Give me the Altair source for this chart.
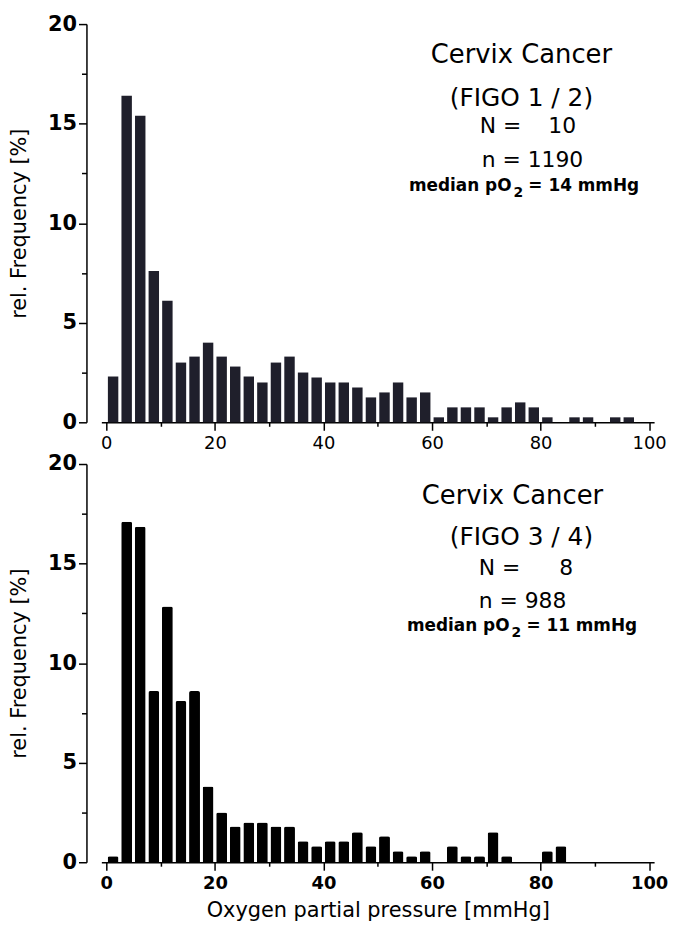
import altair as alt
import pandas as pd

# ---- data ----
bin_start = [0, 2.5, 5, 7.5, 10, 12.5, 15, 17.5, 20, 22.5,
             25, 27.5, 30, 32.5, 35, 37.5, 40, 42.5, 45, 47.5,
             50, 52.5, 55, 57.5, 60, 62.5, 65, 67.5, 70, 72.5,
             75, 77.5, 80, 82.5, 85, 87.5, 90, 92.5, 95, 97.5]

top_freq = [2.3, 16.4, 15.4, 7.6, 6.1, 3.0, 3.3, 4.0, 3.3, 2.8,
            2.3, 2.0, 3.0, 3.3, 2.5, 2.25, 2.0, 2.0, 1.75, 1.25,
            1.5, 2.0, 1.25, 1.5, 0.25, 0.75, 0.75, 0.75, 0.25, 0.75,
            1.0, 0.75, 0.25, 0, 0.25, 0.25, 0, 0.25, 0.25, 0]

bottom_freq = [0.3, 17.1, 16.85, 8.6, 12.85, 8.1, 8.6, 3.8, 2.5, 1.8,
               2.0, 2.0, 1.8, 1.8, 1.05, 0.8, 1.05, 1.05, 1.5, 0.8,
               1.3, 0.55, 0.3, 0.55, 0, 0.8, 0.3, 0.3, 1.5, 0.3,
               0, 0, 0.55, 0.8, 0, 0, 0, 0, 0, 0]

x_ticks = [0, 10, 20, 30, 40, 50, 60, 70, 80, 90, 100]
y_ticks = [0, 2.5, 5, 7.5, 10, 12.5, 15, 17.5, 20]

top_lines = ["Cervix Cancer", "(FIGO 1 / 2)", "N =", "10", "n = 1190",
             "median pO", "2", "= 14 mmHg"]
bottom_lines = ["Cervix Cancer", "(FIGO 3 / 4)", "N =", "8", "n = 988",
                "median pO", "2", "= 11 mmHg"]

W, H = 556.6, 401


def text_layer(s, x, y, size, align="center", weight="normal"):
    return alt.Chart(pd.DataFrame({"t": [s]})).mark_text(
        font="DejaVu Sans", fontSize=size, align=align, baseline="middle",
        fontWeight=weight, color="black"
    ).encode(x=alt.value(x), y=alt.value(y), text="t:N")


def panel(freq, color, bar_w, corner, lines, pos, x_title, xlab_weight):
    df = pd.DataFrame({"start": bin_start, "freq": freq})
    df["mid"] = df["start"] + 1.25
    x_axis_kw = dict(
        values=x_ticks,
        labelExpr="datum.value % 20 == 0 ? datum.label : ''",
        tickSize={"condition": {"test": "datum.value % 20 == 0", "value": 8}, "value": 4},
        labelPadding=4,
        labelFont="DejaVu Sans",
        labelFontSize=18,
        labelFontWeight=xlab_weight,
        titlePadding=8,
    )
    if x_title:
        x_axis = alt.Axis(title=x_title, **x_axis_kw)
    else:
        x_axis = alt.Axis(title=None, **x_axis_kw)
    y_axis = alt.Axis(
        values=y_ticks,
        labelExpr="datum.value % 5 == 0 ? datum.label : ''",
        tickSize={"condition": {"test": "datum.value % 5 == 0", "value": 8}, "value": 5},
        labelPadding=2,
        offset=15,
        labelFont="DejaVu Sans",
        labelFontSize=21,
        labelFontWeight="bold",
        title="rel. Frequency [%]",
        titlePadding=18,
    )
    bar_kw = dict(width=bar_w, color=color)
    if corner:
        bar_kw.update(cornerRadiusTopLeft=corner, cornerRadiusTopRight=corner)
    bars = alt.Chart(df).transform_filter("datum.freq > 0").mark_bar(**bar_kw).encode(
        x=alt.X("mid:Q", scale=alt.Scale(domain=[0, 100], nice=False, zero=False), axis=x_axis),
        y=alt.Y("freq:Q", scale=alt.Scale(domain=[0, 20], nice=False), axis=y_axis),
    )
    texts = [
        text_layer(lines[0], pos[0][0], pos[0][1], 26),
        text_layer(lines[1], pos[1][0], pos[1][1], 25),
        text_layer(lines[2], pos[2][0], pos[2][1], 22, align="left"),
        text_layer(lines[3], pos[3][0], pos[3][1], 22, align="right"),
        text_layer(lines[4], pos[4][0], pos[4][1], 22, align="left"),
        text_layer(lines[5], pos[5][0], pos[5][1], 17, align="right", weight="bold"),
        text_layer(lines[6], pos[6][0], pos[6][1], 14, align="left", weight="bold"),
        text_layer(lines[7], pos[7][0], pos[7][1], 17, align="left", weight="bold"),
    ]
    return alt.layer(bars, *texts).properties(width=W, height=H)


top_pos = [(423, 31), (423, 74), (381, 103), (478, 103), (383, 137),
           (413, 163), (415, 170), (430, 163)]
bottom_pos = [(414, 32.5), (423, 73.5), (380, 104.5), (475, 104.5), (380, 137.5),
              (411, 163.5), (413, 170.5), (428, 163.5)]

top = panel(top_freq, "#1f1f2b", 10.5, 0, top_lines, top_pos, None, "normal")
bottom = panel(bottom_freq, "#000000", 11, 2, bottom_lines, bottom_pos,
               "Oxygen partial pressure [mmHg]", "bold")

chart = alt.vconcat(top, bottom, spacing=1).properties(
    padding={"left": 0, "top": 2, "right": 0, "bottom": 0}
).configure_axis(
    domainColor="black", domainWidth=1.5, tickColor="black", tickWidth=1.5,
    labelColor="black",
    titleFont="DejaVu Sans", titleFontSize=21, titleFontWeight="normal",
    titleColor="black", grid=False,
).configure_view(stroke=None)

chart.save("out.html", embed_options={"renderer": "svg", "actions": False})
